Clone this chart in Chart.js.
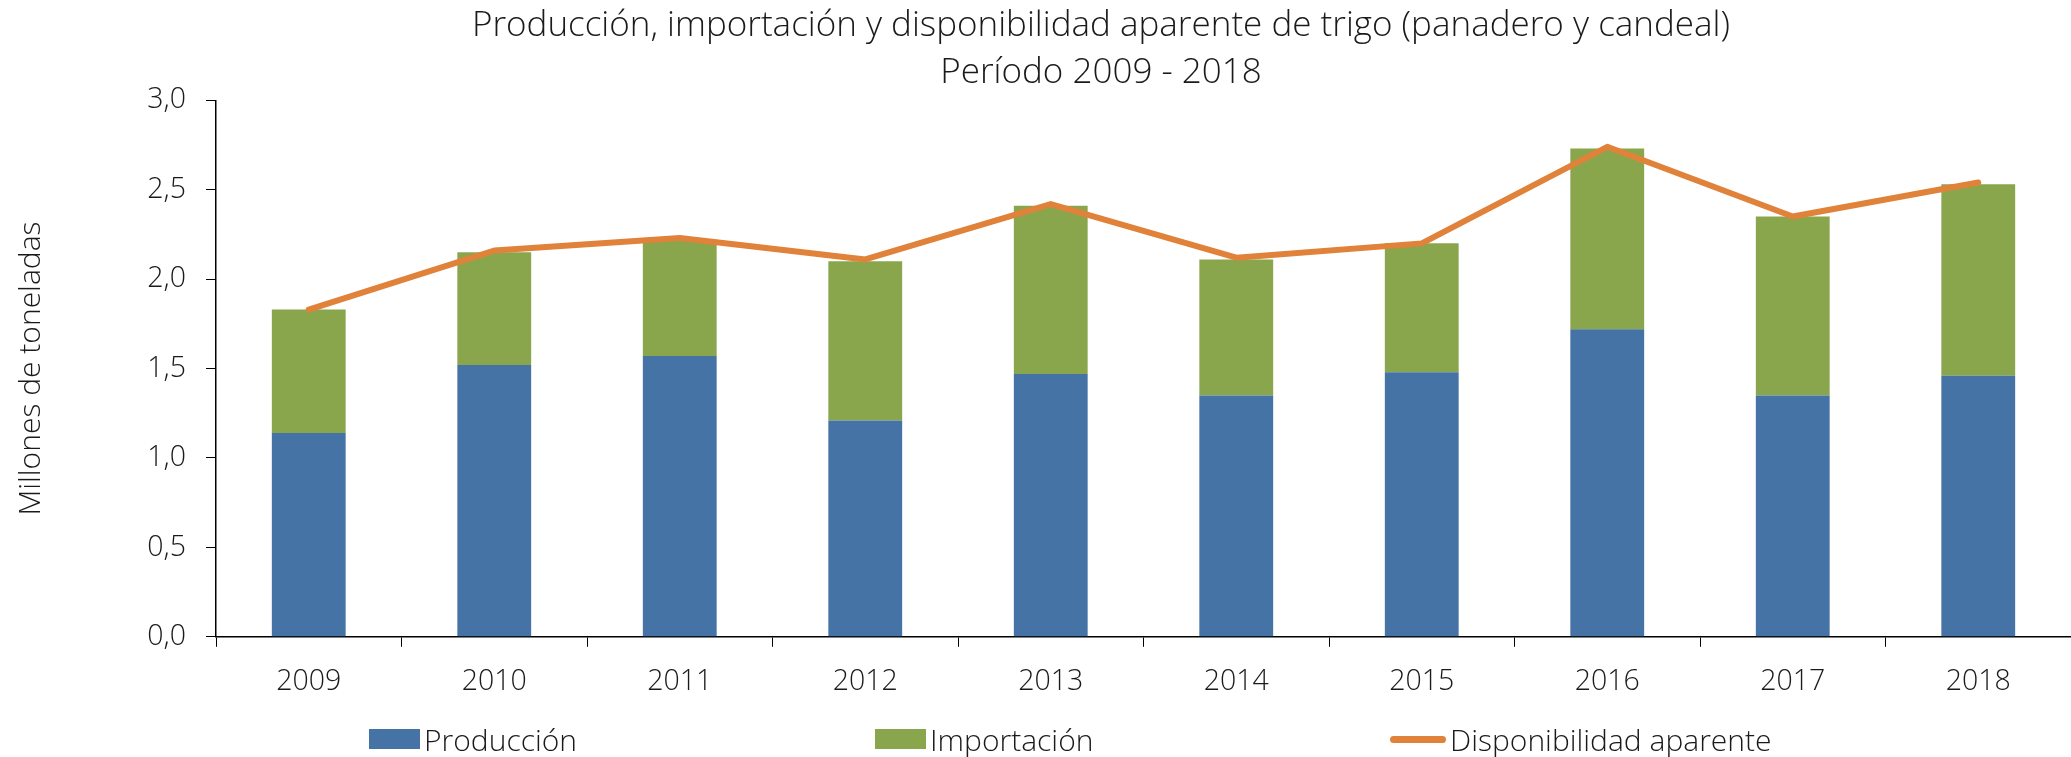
<!DOCTYPE html>
<html>
<head>
<meta charset="utf-8">
<script src="https://cdn.jsdelivr.net/npm/chart.js@4.4.0/dist/chart.umd.min.js"></script>
<style>
  html, body { margin: 0; padding: 0; background: #fff; overflow: hidden; }
  #wrap { position: relative; width: 2071px; height: 757px; overflow: hidden; }
  #legend { position: absolute; left: 0; top: 721px; width: 2071px; height: 36px;
            font-family: "Open Sans", sans-serif; font-weight: 300; font-size: 30px; color: #1a1a1a; }
  .item { position: absolute; top: 0; display: flex; align-items: center; height: 36px; white-space: nowrap; }
  .box { width: 51px; height: 20px; margin-right: 4px; }
  .ln { width: 56px; height: 7px; border-radius: 4px; margin-right: 4px; }
</style>
</head>
<body>
<div id="wrap">
  <canvas id="trigoChart" width="2071" height="757"></canvas>
  <div id="legend"></div>
</div>
<script>
const years = ['2009', '2010', '2011', '2012', '2013', '2014', '2015', '2016', '2017', '2018'];
const produccion = [1.14, 1.52, 1.57, 1.21, 1.47, 1.35, 1.48, 1.72, 1.35, 1.46];
const importacion = [0.69, 0.63, 0.65, 0.89, 0.94, 0.76, 0.72, 1.01, 1.00, 1.07];
const disponibilidad = [1.83, 2.16, 2.23, 2.11, 2.42, 2.12, 2.20, 2.74, 2.35, 2.54];

const blue = '#4673A6';
const green = '#8AA64D';
const orange = '#E0823A';
const ink = '#1a1a1a';

Chart.defaults.font.family = '"Open Sans", sans-serif';
Chart.defaults.font.weight = 300;
Chart.defaults.color = ink;

// el título va centrado sobre el área de trazado, no sobre todo el lienzo
const titleOverPlot = {
  id: 'titleOverPlot',
  afterLayout(chart) {
    const t = chart.titleBlock;
    if (!t) return;
    t.left = 181;
    t.right = 2021;
  }
};

const ctx = document.getElementById('trigoChart').getContext('2d');

const trigoChart = new Chart(ctx, {
  type: 'bar',
  data: {
    labels: years,
    datasets: [
      {
        type: 'line',
        label: 'Disponibilidad aparente',
        data: disponibilidad,
        borderColor: orange,
        backgroundColor: orange,
        borderWidth: 6,
        pointRadius: 0,
        borderCapStyle: 'round',
        borderJoinStyle: 'round',
        tension: 0,
        order: 0
      },
      {
        label: 'Producción',
        data: produccion,
        backgroundColor: blue,
        barPercentage: 0.398,
        categoryPercentage: 1,
        order: 1
      },
      {
        label: 'Importación',
        data: importacion,
        backgroundColor: green,
        barPercentage: 0.398,
        categoryPercentage: 1,
        order: 1
      }
    ]
  },
  options: {
    responsive: false,
    animation: false,
    layout: { padding: { top: 0, right: -4, bottom: 40, left: 0 } },
    plugins: {
      legend: { display: false },
      tooltip: { enabled: false },
      title: {
        display: true,
        text: ['Producción, importación y disponibilidad aparente de trigo (panadero y candeal)', 'Período 2009 - 2018'],
        font: { size: 35, weight: 300, lineHeight: 1.34 },
        color: ink,
        padding: { top: 2.5, bottom: 4 }
      }
    },
    scales: {
      x: {
        stacked: true,
        offset: true,
        grid: { offset: true, drawOnChartArea: false, tickLength: 10, color: '#000' },
        border: { color: '#000', width: 1.5 },
        ticks: { font: { size: 28.5 }, color: ink, padding: 18 }
      },
      y: {
        stacked: true,
        min: 0,
        max: 3,
        afterFit: (scale) => { scale.width = 216; },
        grid: { drawOnChartArea: false, tickLength: 10, color: '#000' },
        border: { color: '#000', width: 1.5 },
        ticks: {
          stepSize: 0.5,
          font: { size: 28.5 },
          color: ink,
          padding: 20,
          callback: (v) => v.toFixed(1).replace('.', ',')
        },
        title: {
          display: true,
          text: 'Millones de toneladas',
          font: { size: 30, weight: 300 },
          color: ink,
          padding: { top: 13, bottom: 0 }
        }
      }
    }
  },
  plugins: [titleOverPlot]
});

// leyenda en HTML, a partir de los datasets
const legendSpots = { 'Producción': 369, 'Importación': 875, 'Disponibilidad aparente': 1390 };
const legend = document.getElementById('legend');
[1, 2, 0].forEach((i) => {
  const ds = trigoChart.data.datasets[i];
  const item = document.createElement('div');
  item.className = 'item';
  item.style.left = legendSpots[ds.label] + 'px';
  const mark = document.createElement('span');
  mark.className = ds.type === 'line' ? 'ln' : 'box';
  mark.style.background = ds.type === 'line' ? ds.borderColor : ds.backgroundColor;
  const txt = document.createElement('span');
  txt.textContent = ds.label;
  item.appendChild(mark);
  item.appendChild(txt);
  legend.appendChild(item);
});
</script>
</body>
</html>
